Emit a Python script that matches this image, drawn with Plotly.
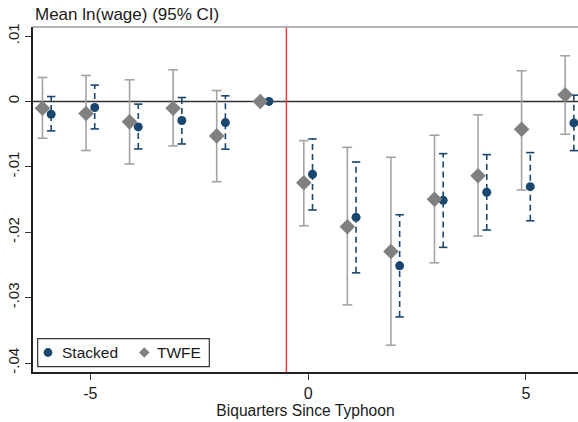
import plotly.graph_objects as go

# Event-study estimates of mean ln(wage) by biquarter relative to the typhoon
event_time = [-6, -5, -4, -3, -2, -1, 0, 1, 2, 3, 4, 5, 6]

stacked_coef = [-0.00195, -0.00093, -0.00389, -0.00292, -0.00323, 0.0,
                -0.01113, -0.01772, -0.02513, -0.01512, -0.01389, -0.01303, -0.00328]
stacked_lo = [-0.0045, -0.0042, -0.00726, -0.0065, -0.0073, None,
              -0.0166, -0.0262, -0.03294, -0.02231, -0.01966, -0.01824, -0.00752]
stacked_hi = [0.00075, 0.0025, -0.00041, 0.0006, 0.00086, None,
              -0.00573, -0.00925, -0.01732, -0.00798, -0.00813, -0.00782, 0.00096]

twfe_coef = [-0.00103, -0.00185, -0.00312, -0.00103, -0.00527, 0.0,
             -0.01242, -0.01916, -0.02293, -0.01496, -0.01135, -0.00424, 0.00101]
twfe_lo = [-0.00562, -0.0075, -0.00956, -0.0068, -0.01227, None,
           -0.019, -0.0311, -0.03727, -0.02467, -0.02058, -0.01354, -0.00501]
twfe_hi = [0.00366, 0.00397, 0.00331, 0.00484, 0.00167, None,
           -0.00599, -0.00701, -0.00853, -0.00516, -0.00205, 0.00469, 0.00698]

series_names = ["Stacked", "TWFE"]

y_tickvals = [0.01, 0.0, -0.01, -0.02, -0.03, -0.04]
y_ticktext = [".01", "0", "-.01", "-.02", "-.03", "-.04"]
x_tickvals = [-5, 0, 5]
x_ticktext = ["-5", "0", "5"]

NAVY = "#1a476f"
GRAY = "#808080"
CI_GRAY = "#a3a3a3"
TEXT = "#1a1a1a"
FONT = "Liberation Sans, Arial, sans-serif"

def ci_segments(xs, lo, hi):
    sx, sy = [], []
    for x, a, b in zip(xs, lo, hi):
        if a is None or b is None:
            continue
        sx += [x, x, None]
        sy += [a, b, None]
    return sx, sy

x_twfe = [t - 0.1 for t in event_time]
x_stk = [t + 0.1 for t in event_time]

fig = go.Figure()

tx, ty = ci_segments(x_twfe, twfe_lo, twfe_hi)
fig.add_trace(go.Scatter(
    x=tx, y=ty, mode="lines+markers", showlegend=False, hoverinfo="skip",
    line=dict(color=CI_GRAY, width=1.6),
    marker=dict(symbol="line-ew", size=7, color=CI_GRAY,
                line=dict(color=CI_GRAY, width=1.6)),
))

sx, sy = ci_segments(x_stk, stacked_lo, stacked_hi)
fig.add_trace(go.Scatter(
    x=sx, y=sy, mode="lines+markers", showlegend=False, hoverinfo="skip",
    line=dict(color=NAVY, width=1.6, dash="6px,4px"),
    marker=dict(symbol="line-ew", size=6, color=NAVY,
                line=dict(color=NAVY, width=1.6)),
))

fig.add_trace(go.Scatter(
    x=x_stk, y=stacked_coef, mode="markers", name=series_names[0],
    showlegend=False, marker=dict(symbol="circle", size=9, color=NAVY),
))
fig.add_trace(go.Scatter(
    x=x_twfe, y=twfe_coef, mode="markers", name=series_names[1],
    showlegend=False, marker=dict(symbol="diamond", size=12, color=GRAY),
))

# zero line, treatment marker and top frame
fig.add_shape(type="line", xref="paper", x0=0, x1=1, yref="y", y0=0, y1=0,
              line=dict(color="#333333", width=1.6), layer="below")
fig.add_shape(type="line", xref="x", x0=-0.5, x1=-0.5, yref="paper", y0=0, y1=1,
              line=dict(color="#ff3a3a", width=1.5), layer="below")
fig.add_shape(type="line", xref="paper", x0=0, x1=1, yref="paper", y0=1, y1=1,
              line=dict(color="#9a9a9a", width=1.5))

# compact legend box in the lower-left corner
fig.add_shape(type="rect", xref="paper", yref="paper",
              x0=0.0086, x1=0.3235, y0=0.0154, y1=0.0965,
              line=dict(color="#333333", width=1.2), fillcolor="white")
fig.add_shape(type="circle", xref="paper", yref="paper",
              xsizemode="pixel", ysizemode="pixel",
              xanchor=0.0275, yanchor=0.0565,
              x0=-4.4, x1=4.4, y0=-4.4, y1=4.4,
              line=dict(width=0), fillcolor=NAVY)
fig.add_shape(type="path", xref="paper", yref="paper",
              xsizemode="pixel", ysizemode="pixel",
              xanchor=0.2042, yanchor=0.0565,
              path="M 0,5.2 L 5.2,0 L 0,-5.2 L -5.2,0 Z",
              line=dict(width=0), fillcolor=GRAY)
fig.add_annotation(text=series_names[0], xref="paper", yref="paper",
                   x=0.0495, y=0.0565, xanchor="left", yanchor="middle",
                   showarrow=False, font=dict(family=FONT, size=15.5, color=TEXT))
fig.add_annotation(text=series_names[1], xref="paper", yref="paper",
                   x=0.2245, y=0.0565, xanchor="left", yanchor="middle",
                   showarrow=False, font=dict(family=FONT, size=15.5, color=TEXT))

fig.update_layout(
    width=578, height=422,
    margin=dict(l=33, r=0, t=27, b=50),
    paper_bgcolor="white", plot_bgcolor="white",
    font=dict(family=FONT, size=15, color=TEXT),
    title=dict(text="Mean ln(wage) (95% CI)", xref="container", yref="container",
               x=35 / 578, xanchor="left", y=1 - 14 / 422, yanchor="middle",
               font=dict(family=FONT, size=17, color=TEXT)),
    showlegend=False,
    xaxis=dict(range=[-6.317, 6.195], tickvals=x_tickvals, ticktext=x_ticktext,
               ticks="outside", ticklen=6, tickwidth=1.2, tickcolor="#333333",
               tickfont=dict(family=FONT, size=16, color=TEXT),
               showline=True, linecolor="#222222", linewidth=1.6,
               showgrid=False, zeroline=False,
               title=dict(text="Biquarters Since Typhoon", standoff=0,
                          font=dict(family=FONT, size=15.6, color=TEXT))),
    yaxis=dict(range=[-0.04136, 0.01138], tickvals=y_tickvals, ticktext=y_ticktext,
               tickangle=-90, ticks="outside", ticklen=6, tickwidth=1.2,
               tickcolor="#333333", tickfont=dict(family=FONT, size=15, color=TEXT),
               showline=True, linecolor="#222222",
               linewidth=1.6, showgrid=False, zeroline=False),
)

fig.write_html("out.html")
